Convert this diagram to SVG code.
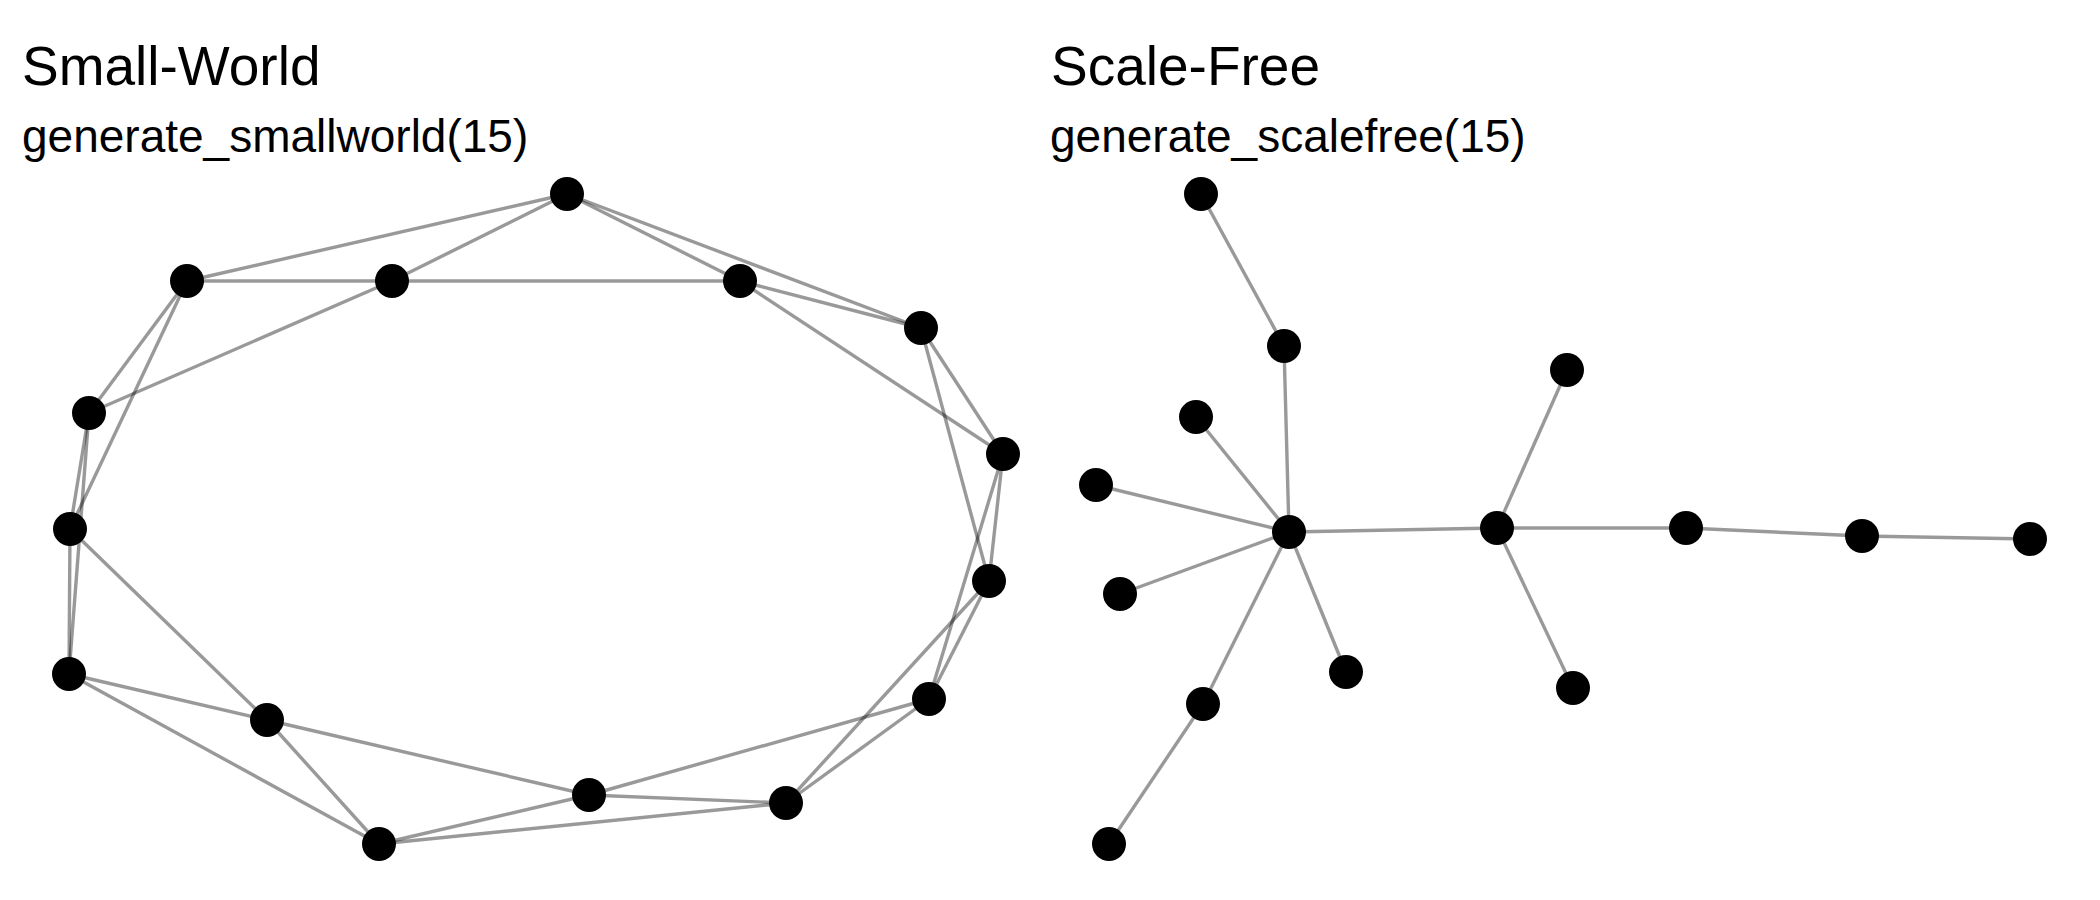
<svg xmlns="http://www.w3.org/2000/svg" width="2100" height="900" viewBox="0 0 2100 900">
<style>
.title{font-family:"Liberation Sans",Arial,sans-serif;font-size:55px;fill:#000}
.sub{font-family:"Liberation Sans",Arial,sans-serif;font-size:46px;fill:#000}
.e line{stroke:#000;stroke-opacity:0.4;stroke-width:3.4}
.n{fill:#000}
</style>
<rect width="2100" height="900" fill="#fff"/>
<text class="title" x="22" y="85">Small-World</text>
<text class="sub" x="22" y="152">generate_smallworld(15)</text>
<text class="title" x="1051" y="85">Scale-Free</text>
<text class="sub" x="1050" y="152">generate_scalefree(15)</text>
<g id="connectors" class="e">
<line x1="567" y1="194" x2="187" y2="281"/>
<line x1="567" y1="194" x2="392" y2="281"/>
<line x1="567" y1="194" x2="740" y2="281"/>
<line x1="567" y1="194" x2="921" y2="328"/>
<line x1="187" y1="281" x2="392" y2="281"/>
<line x1="392" y1="281" x2="740" y2="281"/>
<line x1="740" y1="281" x2="921" y2="328"/>
<line x1="392" y1="281" x2="89" y2="413"/>
<line x1="187" y1="281" x2="89" y2="413"/>
<line x1="187" y1="281" x2="70" y2="529"/>
<line x1="89" y1="413" x2="70" y2="529"/>
<line x1="89" y1="413" x2="69" y2="674"/>
<line x1="70" y1="529" x2="69" y2="674"/>
<line x1="70" y1="529" x2="267" y2="720"/>
<line x1="921" y1="328" x2="1003" y2="454"/>
<line x1="740" y1="281" x2="1003" y2="454"/>
<line x1="921" y1="328" x2="989" y2="581"/>
<line x1="1003" y1="454" x2="989" y2="581"/>
<line x1="1003" y1="454" x2="929" y2="699"/>
<line x1="989" y1="581" x2="929" y2="699"/>
<line x1="989" y1="581" x2="786" y2="803"/>
<line x1="929" y1="699" x2="786" y2="803"/>
<line x1="929" y1="699" x2="589" y2="795"/>
<line x1="69" y1="674" x2="267" y2="720"/>
<line x1="69" y1="674" x2="379" y2="844"/>
<line x1="267" y1="720" x2="589" y2="795"/>
<line x1="267" y1="720" x2="379" y2="844"/>
<line x1="589" y1="795" x2="786" y2="803"/>
<line x1="589" y1="795" x2="379" y2="844"/>
<line x1="379" y1="844" x2="786" y2="803"/>
<line x1="1201" y1="194" x2="1284" y2="346"/>
<line x1="1284" y1="346" x2="1289" y2="532"/>
<line x1="1196" y1="417" x2="1289" y2="532"/>
<line x1="1096" y1="485" x2="1289" y2="532"/>
<line x1="1120" y1="594" x2="1289" y2="532"/>
<line x1="1346" y1="672" x2="1289" y2="532"/>
<line x1="1203" y1="704" x2="1289" y2="532"/>
<line x1="1203" y1="704" x2="1109" y2="844"/>
<line x1="1289" y1="532" x2="1497" y2="528"/>
<line x1="1497" y1="528" x2="1567" y2="370"/>
<line x1="1497" y1="528" x2="1573" y2="688"/>
<line x1="1497" y1="528" x2="1686" y2="528"/>
<line x1="1686" y1="528" x2="1862" y2="536"/>
<line x1="1862" y1="536" x2="2030" y2="539"/>
</g>
<g id="sw0"><circle class="n" cx="567" cy="194" r="17"/></g>
<g id="sw1"><circle class="n" cx="187" cy="281" r="17"/></g>
<g id="sw2"><circle class="n" cx="392" cy="281" r="17"/></g>
<g id="sw3"><circle class="n" cx="740" cy="281" r="17"/></g>
<g id="sw4"><circle class="n" cx="921" cy="328" r="17"/></g>
<g id="sw5"><circle class="n" cx="89" cy="413" r="17"/></g>
<g id="sw6"><circle class="n" cx="1003" cy="454" r="17"/></g>
<g id="sw7"><circle class="n" cx="70" cy="529" r="17"/></g>
<g id="sw8"><circle class="n" cx="989" cy="581" r="17"/></g>
<g id="sw9"><circle class="n" cx="69" cy="674" r="17"/></g>
<g id="sw10"><circle class="n" cx="929" cy="699" r="17"/></g>
<g id="sw11"><circle class="n" cx="267" cy="720" r="17"/></g>
<g id="sw12"><circle class="n" cx="589" cy="795" r="17"/></g>
<g id="sw13"><circle class="n" cx="786" cy="803" r="17"/></g>
<g id="sw14"><circle class="n" cx="379" cy="844" r="17"/></g>
<g id="sf0"><circle class="n" cx="1201" cy="194" r="17"/></g>
<g id="sf1"><circle class="n" cx="1284" cy="346" r="17"/></g>
<g id="sf2"><circle class="n" cx="1567" cy="370" r="17"/></g>
<g id="sf3"><circle class="n" cx="1196" cy="417" r="17"/></g>
<g id="sf4"><circle class="n" cx="1096" cy="485" r="17"/></g>
<g id="sf5"><circle class="n" cx="1289" cy="532" r="17"/></g>
<g id="sf6"><circle class="n" cx="1497" cy="528" r="17"/></g>
<g id="sf7"><circle class="n" cx="1686" cy="528" r="17"/></g>
<g id="sf8"><circle class="n" cx="1862" cy="536" r="17"/></g>
<g id="sf9"><circle class="n" cx="2030" cy="539" r="17"/></g>
<g id="sf10"><circle class="n" cx="1120" cy="594" r="17"/></g>
<g id="sf11"><circle class="n" cx="1346" cy="672" r="17"/></g>
<g id="sf12"><circle class="n" cx="1573" cy="688" r="17"/></g>
<g id="sf13"><circle class="n" cx="1203" cy="704" r="17"/></g>
<g id="sf14"><circle class="n" cx="1109" cy="844" r="17"/></g>
</svg>
